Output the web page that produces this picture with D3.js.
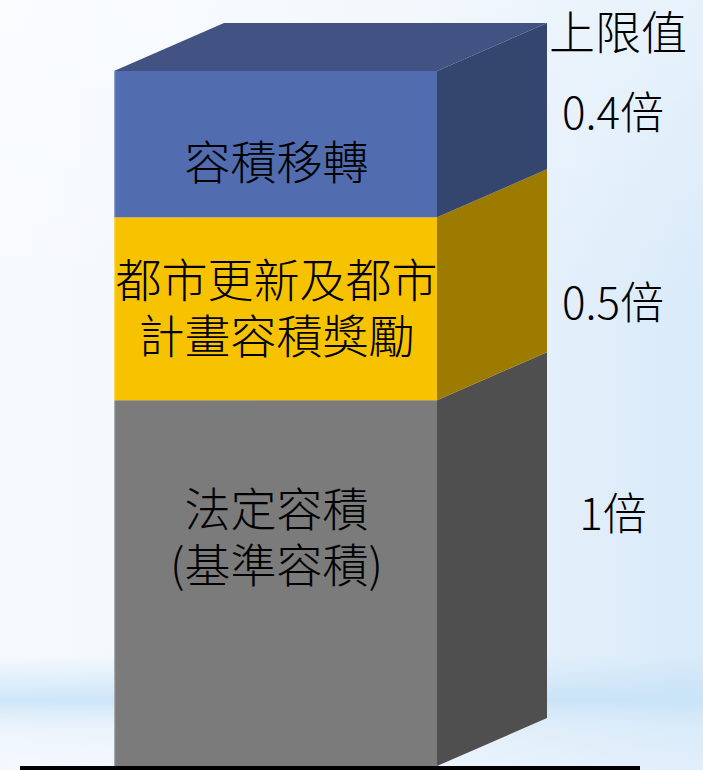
<!DOCTYPE html>
<html><head><meta charset="utf-8">
<script src="https://cdn.jsdelivr.net/npm/d3@7/dist/d3.min.js"></script>
<style>html,body{margin:0;padding:0;overflow:hidden;background:#fff}svg{display:block}</style>
</head><body>
<script>
// ---- data ----
const categories = ["法定容積", "都市更新及都市計畫容積獎勵", "容積移轉"];
const labelLines = [["法定容積", "(基準容積)"], ["都市更新及都市", "計畫容積獎勵"], ["容積移轉"]];
const values = [1, 0.5, 0.4];
const limitLabels = ["1倍", "0.5倍", "0.4倍"];
const headerLabel = "上限值";

const frontColors = ["#7b7b7b", "#f7c300", "#516caf"];
const sideColors  = ["#4f4f4f", "#9d7b00", "#34466e"];
const topColor = "#415283";

const W = 703, H = 770;
const svg = d3.select("body").append("svg").attr("width", W).attr("height", H);
const defs = svg.append("defs");

// background
const g1 = defs.append("linearGradient").attr("id","bgH").attr("x1","0").attr("x2","1").attr("y1","0").attr("y2","0");
g1.append("stop").attr("offset","0").attr("stop-color","#f7fafd");
g1.append("stop").attr("offset","0.55").attr("stop-color","#eef5fc");
g1.append("stop").attr("offset","1").attr("stop-color","#d9eaf9");
const g2 = defs.append("linearGradient").attr("id","bgV").attr("x1","0").attr("x2","0").attr("y1","0").attr("y2","1");
g2.append("stop").attr("offset","0").attr("stop-color","#ffffff").attr("stop-opacity","0.35");
g2.append("stop").attr("offset","0.4").attr("stop-color","#ffffff").attr("stop-opacity","0");
g2.append("stop").attr("offset","0.85").attr("stop-color","#c4e1f7").attr("stop-opacity","0");
g2.append("stop").attr("offset","0.91").attr("stop-color","#c4e1f7").attr("stop-opacity","0.8");
g2.append("stop").attr("offset","0.95").attr("stop-color","#dcecfa").attr("stop-opacity","0.35");
g2.append("stop").attr("offset","1").attr("stop-color","#eef6fd").attr("stop-opacity","0.3");
svg.append("rect").attr("width",W).attr("height",H).attr("fill","url(#bgH)");
svg.append("rect").attr("width",W).attr("height",H).attr("fill","url(#bgV)");

// scales
const x = d3.scaleBand().domain(["bar"]).range([114, 437]).paddingInner(0).paddingOuter(0);
const total = d3.sum(values);
const y = d3.scaleLinear().domain([0, total]).range([766, 71]);
const dx = 110, dy = 48;

const cum = [];
values.reduce((acc, v, i) => { cum.push([acc, acc + v]); return acc + v; }, 0);

const x0 = x("bar"), x1 = x0 + x.bandwidth();
const bar = svg.append("g");
cum.forEach(([a, b], i) => {
  bar.append("rect").attr("x", x0).attr("y", y(b)).attr("width", x1 - x0).attr("height", y(a) - y(b))
    .attr("fill", frontColors[i]);
  bar.append("path").attr("d", `M${x1},${y(b)}L${x1+dx},${y(b)-dy}L${x1+dx},${y(a)-dy}L${x1},${y(a)}Z`)
    .attr("fill", sideColors[i]);
});
bar.append("path").attr("d", `M${x0},${y(total)}L${x0+dx},${y(total)-dy}L${x1+dx},${y(total)-dy}L${x1},${y(total)}Z`)
  .attr("fill", topColor);
bar.append("line").attr("x1", x0+0.5).attr("x2", x0+0.5).attr("y1", y(total)).attr("y2", y(0))
  .attr("stroke", "#ffffff").attr("stroke-opacity", 0.35).attr("stroke-width", 1.5);

// segment labels
const font = "'Noto Sans CJK TC','Noto Sans CJK SC',sans-serif";
const labelFrac = [0.376, 0.5, 0.63];
const lineH = 56;
cum.forEach(([a, b], i) => {
  const cy = y(b) + (y(a) - y(b)) * labelFrac[i];
  const lines = labelLines[i];
  const t = svg.append("text").attr("text-anchor", "middle")
      .style("font-family", font).style("font-size", "46px").style("font-weight", 300).attr("fill", "#000");
  lines.forEach((s, k) => {
    t.append("tspan").attr("x", (x0 + x1) / 2 + 1)
      .attr("y", cy + (k - (lines.length - 1) / 2) * lineH + 16)
      .text(s);
  });
});

// upper limit labels
const limitFrac = [0.31, 0.47, 0.285];
const lx = 613;
cum.forEach(([a, b], i) => {
  const cy = y(b) + (y(a) - y(b)) * limitFrac[i];
  svg.append("text").attr("x", lx).attr("y", cy + 16)
    .attr("text-anchor", "middle")
    .style("font-family", font).style("font-size", "44px").style("font-weight", 300).attr("fill", "#000")
    .text(limitLabels[i]);
});
svg.append("text").attr("x", 618).attr("y", y(total) - 38 + 16)
  .attr("text-anchor", "middle")
  .style("font-family", font).style("font-size", "46px").style("font-weight", 300).attr("fill", "#000")
  .text(headerLabel);

// baseline
svg.append("rect").attr("x", 20).attr("y", y(0)).attr("width", 620).attr("height", 4).attr("fill", "#000");
</script>
</body></html>
